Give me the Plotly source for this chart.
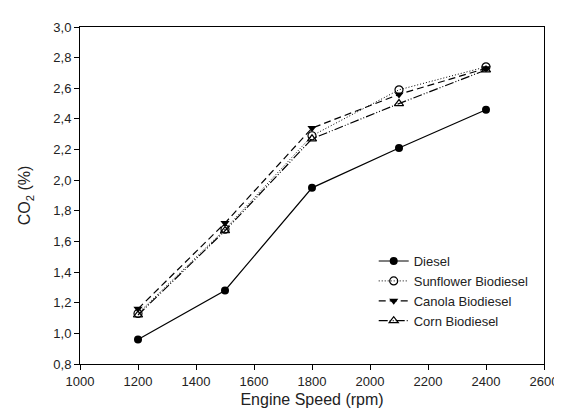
import plotly.graph_objects as go

speed = [1200, 1500, 1800, 2100, 2400]
diesel = [0.96, 1.28, 1.95, 2.21, 2.46]
sunflower = [1.13, 1.68, 2.29, 2.59, 2.74]
canola = [1.16, 1.72, 2.34, 2.56, 2.73]
corn = [1.12, 1.67, 2.27, 2.50, 2.72]

x_ticks = [1000, 1200, 1400, 1600, 1800, 2000, 2200, 2400, 2600]
y_ticks = [0.8, 1.0, 1.2, 1.4, 1.6, 1.8, 2.0, 2.2, 2.4, 2.6, 2.8, 3.0]
y_labels = ["0,8", "1,0", "1,2", "1,4", "1,6", "1,8", "2,0", "2,2", "2,4", "2,6", "2,8", "3,0"]

fig = go.Figure()
fig.add_trace(go.Scatter(x=speed, y=diesel, name="Diesel", mode="lines+markers",
                         line=dict(color="black", width=1.2, dash="solid"),
                         marker=dict(symbol="circle", size=8, color="black")))
fig.add_trace(go.Scatter(x=speed, y=sunflower, name="Sunflower Biodiesel", mode="lines+markers",
                         line=dict(color="black", width=1.0, dash="1px,2px"),
                         marker=dict(symbol="circle-open", size=8, color="black", line=dict(width=1.2))))
fig.add_trace(go.Scatter(x=speed, y=canola, name="Canola Biodiesel", mode="lines+markers",
                         line=dict(color="black", width=1.2, dash="7px,4px"),
                         marker=dict(symbol="triangle-down", size=8, color="black")))
fig.add_trace(go.Scatter(x=speed, y=corn, name="Corn Biodiesel", mode="lines+markers",
                         line=dict(color="black", width=1.2, dash="9px,2px,1px,2px,1px,2px"),
                         marker=dict(symbol="triangle-up-open", size=8, color="black", line=dict(width=1.2))))

axis_common = dict(showline=True, linecolor="black", linewidth=1, mirror=True,
                   ticks="outside", ticklen=5, tickcolor="black", showgrid=False,
                   zeroline=False, tickfont=dict(size=13, color="#222"))

fig.update_layout(
    width=562, height=412,
    margin=dict(l=72, r=16, t=15, b=56),
    paper_bgcolor="white", plot_bgcolor="white",
    font=dict(family="Liberation Sans, Arial, sans-serif", color="#222"),
    xaxis=dict(range=[1000, 2600], tickvals=x_ticks,
               title=dict(text="Engine Speed (rpm)", font=dict(size=16), standoff=6),
               **axis_common),
    yaxis=dict(range=[0.8, 3.0], tickvals=y_ticks, ticktext=y_labels,
               title=dict(text="CO<sub>2</sub> (%)", font=dict(size=16), standoff=18),
               **axis_common),
    legend=dict(x=0.633, y=0.35, xanchor="left", yanchor="top",
                bgcolor="rgba(0,0,0,0)", font=dict(size=13, color="#222"),
                tracegroupgap=0),
    showlegend=True,
)

fig.write_html("out.html")
